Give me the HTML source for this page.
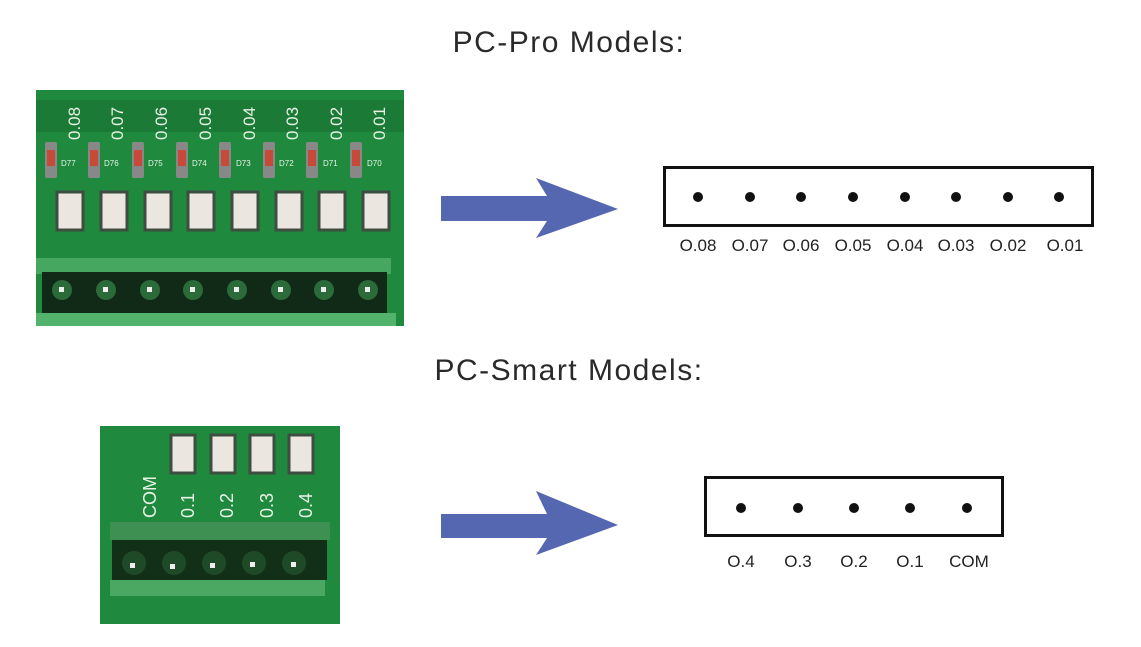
<!DOCTYPE html>
<html><head><style>
body{margin:0;background:#fff;}
svg{display:block}
</style></head><body>
<svg width="1141" height="647" viewBox="0 0 1141 647" xmlns="http://www.w3.org/2000/svg" font-family="Liberation Sans, sans-serif">
<rect width="1141" height="647" fill="#fff"/>
<text x="569" y="52" font-size="30" letter-spacing="1.5" text-anchor="middle" fill="#2a2a2a">PC-Pro Models:</text>
<text x="569" y="380" font-size="30" letter-spacing="1.5" text-anchor="middle" fill="#2a2a2a">PC-Smart Models:</text>

<!-- top PCB -->
<rect x="36" y="90" width="368" height="236" fill="#1f8a3e"/>
<rect x="36" y="100" width="368" height="32" fill="#1a7a36"/>
<g fill="#e8f2e6" font-size="17">
<text transform="translate(80,140) rotate(-90)">0.08</text>
<text transform="translate(123,140) rotate(-90)">0.07</text>
<text transform="translate(167,140) rotate(-90)">0.06</text>
<text transform="translate(211,140) rotate(-90)">0.05</text>
<text transform="translate(255,140) rotate(-90)">0.04</text>
<text transform="translate(298,140) rotate(-90)">0.03</text>
<text transform="translate(342,140) rotate(-90)">0.02</text>
<text transform="translate(385,140) rotate(-90)">0.01</text>
</g>
<g fill="#e8f2e6" font-size="8">
<text x="61" y="166">D77</text><text x="104" y="166">D76</text><text x="148" y="166">D75</text><text x="192" y="166">D74</text><text x="236" y="166">D73</text><text x="279" y="166">D72</text><text x="323" y="166">D71</text><text x="367" y="166">D70</text>
</g>
<g>
<rect x="45" y="142" width="12" height="36" fill="#888" rx="2"/><rect x="47" y="150" width="8" height="16" fill="#c54a3a"/>
<rect x="88" y="142" width="12" height="36" fill="#888" rx="2"/><rect x="90" y="150" width="8" height="16" fill="#c54a3a"/>
<rect x="132" y="142" width="12" height="36" fill="#888" rx="2"/><rect x="134" y="150" width="8" height="16" fill="#c54a3a"/>
<rect x="176" y="142" width="12" height="36" fill="#888" rx="2"/><rect x="178" y="150" width="8" height="16" fill="#c54a3a"/>
<rect x="219" y="142" width="12" height="36" fill="#888" rx="2"/><rect x="221" y="150" width="8" height="16" fill="#c54a3a"/>
<rect x="263" y="142" width="12" height="36" fill="#888" rx="2"/><rect x="265" y="150" width="8" height="16" fill="#c54a3a"/>
<rect x="306" y="142" width="12" height="36" fill="#888" rx="2"/><rect x="308" y="150" width="8" height="16" fill="#c54a3a"/>
<rect x="350" y="142" width="12" height="36" fill="#888" rx="2"/><rect x="352" y="150" width="8" height="16" fill="#c54a3a"/>
</g>
<g fill="#ebe6df" stroke="#3d4d40" stroke-width="3">
<rect x="57" y="192" width="26" height="38"/><rect x="101" y="192" width="26" height="38"/><rect x="145" y="192" width="26" height="38"/><rect x="188" y="192" width="26" height="38"/><rect x="232" y="192" width="26" height="38"/><rect x="276" y="192" width="26" height="38"/><rect x="319" y="192" width="26" height="38"/><rect x="363" y="192" width="26" height="38"/>
</g>
<rect x="36" y="258" width="355" height="16" fill="#46a860"/>
<rect x="42" y="272" width="345" height="42" fill="#112a18"/>
<g fill="#2b6b3a">
<circle cx="62" cy="290" r="10"/><circle cx="106" cy="290" r="10"/><circle cx="150" cy="290" r="10"/><circle cx="193" cy="290" r="10"/><circle cx="237" cy="290" r="10"/><circle cx="281" cy="290" r="10"/><circle cx="324" cy="290" r="10"/><circle cx="368" cy="290" r="10"/>
</g>
<g fill="#eee">
<rect x="59" y="287" width="5" height="5"/><rect x="103" y="287" width="5" height="5"/><rect x="147" y="287" width="5" height="5"/><rect x="190" y="287" width="5" height="5"/><rect x="234" y="287" width="5" height="5"/><rect x="278" y="287" width="5" height="5"/><rect x="321" y="287" width="5" height="5"/><rect x="365" y="287" width="5" height="5"/>
</g>
<rect x="36" y="313" width="360" height="13" fill="#52b36c"/>

<!-- bottom PCB -->
<rect x="100" y="426" width="240" height="198" fill="#1f8a3e"/>
<g fill="#ebe6df" stroke="#3d4d40" stroke-width="3">
<rect x="171" y="435" width="24" height="38"/><rect x="211" y="435" width="24" height="38"/><rect x="250" y="435" width="24" height="38"/><rect x="289" y="435" width="24" height="38"/>
</g>
<g fill="#e8f2e6" font-size="18">
<text transform="translate(156,518) rotate(-90)">COM</text>
<text transform="translate(194,518) rotate(-90)">0.1</text>
<text transform="translate(233,518) rotate(-90)">0.2</text>
<text transform="translate(273,518) rotate(-90)">0.3</text>
<text transform="translate(312,518) rotate(-90)">0.4</text>
</g>
<rect x="110" y="522" width="220" height="18" fill="#3d8f52"/>
<rect x="112" y="540" width="215" height="40" fill="#123018"/>
<g fill="#1e4a28">
<circle cx="134" cy="563" r="12"/><circle cx="174" cy="563" r="12"/><circle cx="214" cy="563" r="12"/><circle cx="254" cy="563" r="12"/><circle cx="294" cy="563" r="12"/>
</g>
<g fill="#eee">
<rect x="130" y="563" width="5" height="5"/><rect x="170" y="564" width="5" height="5"/><rect x="210" y="563" width="5" height="5"/><rect x="250" y="562" width="5" height="5"/><rect x="291" y="562" width="5" height="5"/>
</g>
<rect x="110" y="580" width="215" height="16" fill="#4aa863"/>

<!-- arrows -->
<path d="M441 196 L547 196 L536 178 L618 209 L536 238 L547 221 L441 221 Z" fill="#5467b0"/>
<path d="M441 514 L547 514 L536 491 L618 525 L536 555 L547 538 L441 538 Z" fill="#5467b0"/>

<!-- top box -->
<rect x="664.5" y="167.5" width="428" height="58" fill="none" stroke="#111" stroke-width="3"/>
<g fill="#111">
<circle cx="698" cy="197" r="5"/><circle cx="750" cy="197" r="5"/><circle cx="801" cy="197" r="5"/><circle cx="853" cy="197" r="5"/><circle cx="905" cy="197" r="5"/><circle cx="956" cy="197" r="5"/><circle cx="1008" cy="197" r="5"/><circle cx="1059" cy="197" r="5"/>
</g>
<g font-size="17" fill="#222" text-anchor="middle">
<text x="698" y="251">O.08</text><text x="750" y="251">O.07</text><text x="801" y="251">O.06</text><text x="853" y="251">O.05</text><text x="905" y="251">O.04</text><text x="956" y="251">O.03</text><text x="1008" y="251">O.02</text><text x="1065" y="251">O.01</text>
</g>
<!-- bottom box -->
<rect x="705.5" y="477.5" width="297" height="58" fill="none" stroke="#111" stroke-width="3"/>
<g fill="#111">
<circle cx="741" cy="508" r="5"/><circle cx="798" cy="508" r="5"/><circle cx="854" cy="508" r="5"/><circle cx="910" cy="508" r="5"/><circle cx="967" cy="508" r="5"/>
</g>
<g font-size="17" fill="#222" text-anchor="middle">
<text x="741" y="567">O.4</text><text x="798" y="567">O.3</text><text x="854" y="567">O.2</text><text x="910" y="567">O.1</text><text x="969" y="567">COM</text>
</g>
</svg>
</body></html>
